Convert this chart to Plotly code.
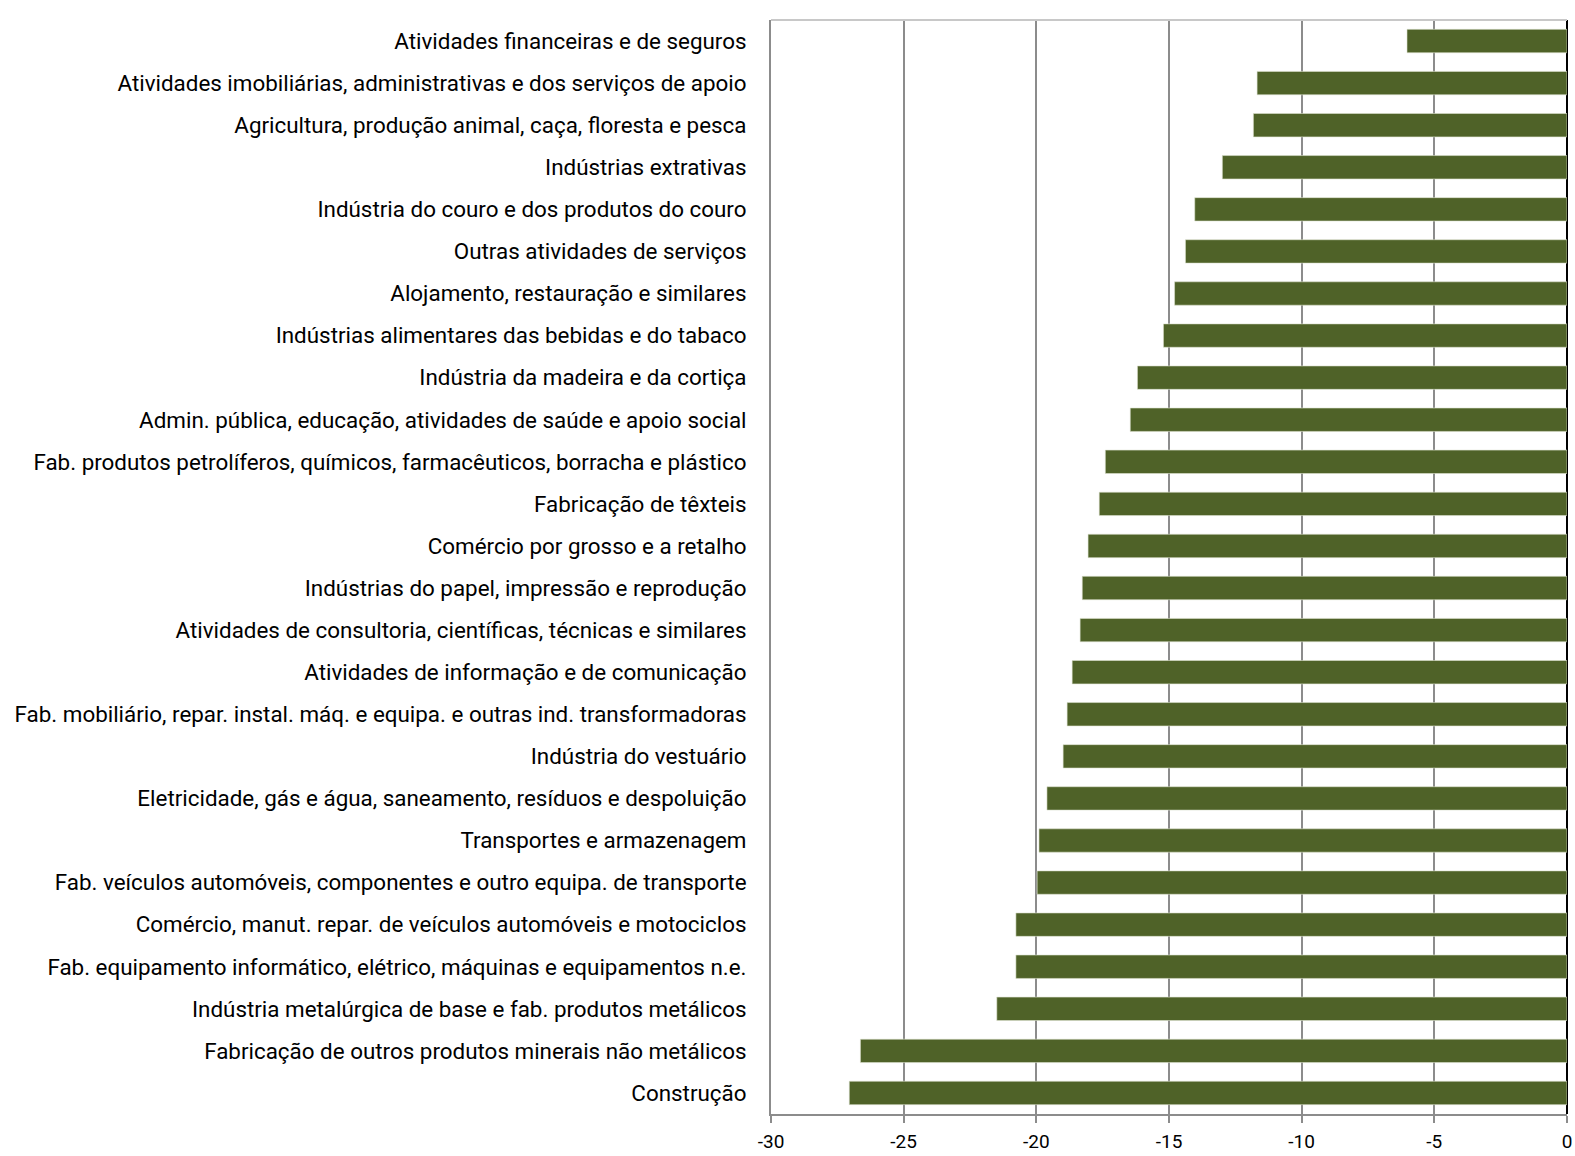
import plotly.graph_objects as go

categories = [
    "Atividades financeiras e de seguros",
    "Atividades imobiliárias, administrativas e dos serviços de apoio",
    "Agricultura, produção animal, caça, floresta e pesca",
    "Indústrias extrativas",
    "Indústria do couro e dos produtos do couro",
    "Outras atividades de serviços",
    "Alojamento, restauração e similares",
    "Indústrias alimentares das bebidas e do tabaco",
    "Indústria da madeira e da cortiça",
    "Admin. pública, educação, atividades de saúde e apoio social",
    "Fab. produtos petrolíferos, químicos, farmacêuticos, borracha e plástico",
    "Fabricação de têxteis",
    "Comércio por grosso e a retalho",
    "Indústrias do papel, impressão e reprodução",
    "Atividades de consultoria, científicas, técnicas e similares",
    "Atividades de informação e de comunicação",
    "Fab. mobiliário, repar. instal. máq. e equipa. e outras ind. transformadoras",
    "Indústria do vestuário",
    "Eletricidade, gás e água, saneamento, resíduos e despoluição",
    "Transportes e armazenagem",
    "Fab. veículos automóveis, componentes e outro equipa. de transporte",
    "Comércio, manut. repar. de veículos automóveis e motociclos",
    "Fab. equipamento informático, elétrico, máquinas e equipamentos n.e.",
    "Indústria metalúrgica de base e fab. produtos metálicos",
    "Fabricação de outros produtos minerais não metálicos",
    "Construção",
]

values = [
    -6.03, -11.68, -11.82, -12.99, -14.03, -14.38, -14.79, -15.21, -16.19, -16.46,
    -17.40, -17.63, -18.05, -18.27, -18.35, -18.65, -18.84, -18.99, -19.60, -19.90,
    -19.97, -20.77, -20.77, -21.49, -26.63, -27.05,
]

tick_vals = [-30, -25, -20, -15, -10, -5, 0]
tick_text = ["-30", "-25", "-20", "-15", "-10", "-5", "0"]

FONT = "Roboto"

fig = go.Figure(
    go.Bar(
        x=values,
        y=categories,
        orientation="h",
        marker=dict(color="#4F6228", line=dict(color="#DDE3D0", width=0.6)),
        hoverinfo="x+y",
    )
)

fig.update_layout(
    width=1575,
    height=1156,
    margin=dict(l=771, r=8, t=20, b=42),
    plot_bgcolor="white",
    paper_bgcolor="white",
    bargap=0.444,
    showlegend=False,
    font=dict(family=FONT, size=22, color="#000000"),
    shapes=[
        dict(type="line", xref="paper", yref="paper", x0=0, x1=1, y0=1, y1=1,
             line=dict(color="#C8C8C8", width=2)),
    ],
)

fig.update_xaxes(
    range=[-30, 0],
    tickvals=tick_vals,
    ticktext=tick_text,
    automargin=False,
    showgrid=True,
    gridcolor="#8C8C8C",
    gridwidth=2,
    zeroline=True,
    zerolinecolor="#000000",
    zerolinewidth=2,
    showline=True,
    linecolor="#8C8C8C",
    linewidth=2,
    ticks="outside",
    ticklen=7,
    tickwidth=2,
    tickcolor="#8C8C8C",
    ticklabelstandoff=2,
    tickfont=dict(family=FONT, size=19, color="#000000"),
)

fig.update_yaxes(
    categoryorder="array",
    categoryarray=categories,
    autorange="reversed",
    automargin=False,
    showline=True,
    linecolor="#8C8C8C",
    linewidth=2,
    showgrid=False,
    ticks="",
    ticklabelstandoff=18,
    tickfont=dict(family=FONT, size=22.4, color="#000000"),
)

fig.write_html(
    "out.html",
    config={"displayModeBar": False},
    post_script="document.body.style.margin='0';document.body.style.overflow='hidden';",
)
